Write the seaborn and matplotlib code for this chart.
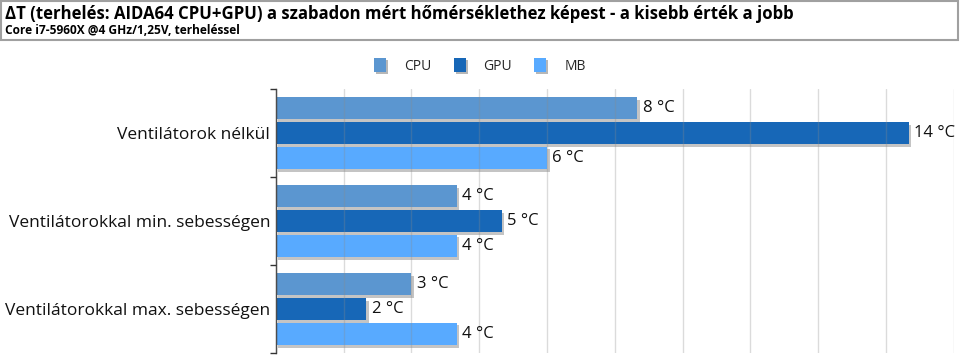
import matplotlib
matplotlib.use("Agg")
import matplotlib.pyplot as plt
import matplotlib.patheffects as pe
from matplotlib.patches import Rectangle
from matplotlib.ticker import MultipleLocator, FixedLocator
import seaborn as sns
import pandas as pd

categories = ["Ventilátorok nélkül",
              "Ventilátorokkal min. sebességen",
              "Ventilátorokkal max. sebességen"]
series = ["CPU", "GPU", "MB"]
cpu_vals = [8, 4, 3]
gpu_vals = [14, 5, 2]
mb_vals = [6, 4, 4]
colors = ["#5B96D0", "#1767B7", "#58AAFF"]

title = "ΔT (terhelés: AIDA64 CPU+GPU) a szabadon mért hőmérséklethez képest - a kisebb érték a jobb"
subtitle = "Core i7-5960X @4 GHz/1,25V, terheléssel"

rows = []
for s, vals in zip(series, [cpu_vals, gpu_vals, mb_vals]):
    for c, v in zip(categories, vals):
        rows.append({"cat": c, "series": s, "val": v})
df = pd.DataFrame(rows)

sns.set_theme(style="white")
plt.rcParams["font.family"] = ["Open Sans", "DejaVu Sans"]

fig = plt.figure(figsize=(9.6, 3.6), dpi=100)
ax = fig.add_axes([275.7 / 960, 1 - 353 / 360, (953.7 - 275.7) / 960, (353 - 89) / 360])

sns.barplot(data=df, y="cat", x="val", hue="series", orient="h",
            palette=colors, width=0.84, gap=0.1, ax=ax, legend=False,
            order=categories, hue_order=series, saturation=1, errorbar=None)

shadow = [pe.SimplePatchShadow(offset=(2, -2), shadow_rgbFace="#8a8a8a", alpha=0.5), pe.Normal()]
for p in ax.patches:
    p.set_path_effects(shadow)
    p.set_edgecolor("none")
    p.set_zorder(2)

for cont in ax.containers:
    ax.bar_label(cont, labels=[f"{v:.0f} °C" for v in cont.datavalues],
                 padding=4, fontsize=12, color="#111111")

ax.set_xlim(0, 15)
ax.set_ylim(2.5, -0.5)
ax.xaxis.set_major_locator(MultipleLocator(1.5))
ax.grid(axis="x", color="#8a8a8a", alpha=0.3, lw=1, zorder=3)
ax.set_axisbelow(False)
ax.tick_params(axis="x", length=0, labelbottom=False)
ax.set_xlabel("")
ax.set_ylabel("")
ax.yaxis.set_minor_locator(FixedLocator([-0.5, 0.5, 1.5, 2.5]))
ax.tick_params(axis="y", which="major", length=0, labelsize=12.5, pad=4, labelcolor="#111111")
ax.tick_params(axis="y", which="minor", length=4, width=1, color="#333333", left=True)
for s in ["top", "right", "bottom"]:
    ax.spines[s].set_visible(False)
ax.spines["left"].set_color("#333333")
ax.spines["left"].set_linewidth(1)

# Legend
handles = [Rectangle((0, 0), 1, 1, facecolor=c, edgecolor="none",
                     path_effects=[pe.SimplePatchShadow(offset=(1.5, -1.5), shadow_rgbFace="#888888", alpha=0.6), pe.Normal()])
           for c in colors]
fig.legend(handles, series, loc="center", bbox_to_anchor=(0.5, 1 - 66 / 360), ncol=3,
           frameon=False, fontsize=10, handlelength=0.85, handleheight=1.2,
           columnspacing=1.6, handletextpad=1.3)

# Title box
fig.patches.append(Rectangle((1 / 960, 1 - 40 / 360), 957 / 960, 39 / 360,
                             transform=fig.transFigure, facecolor="white",
                             edgecolor="#a0a0a0", lw=1.5, zorder=0))
fig.text(5 / 960, 1 - 14 / 360, title, fontsize=12.1, fontweight="bold",
         va="center", ha="left", color="#000000")
fig.text(5 / 960, 1 - 30.5 / 360, subtitle, fontsize=8.6, fontweight="bold",
         va="center", ha="left", color="#000000")

fig.savefig("out.png", dpi=100)
